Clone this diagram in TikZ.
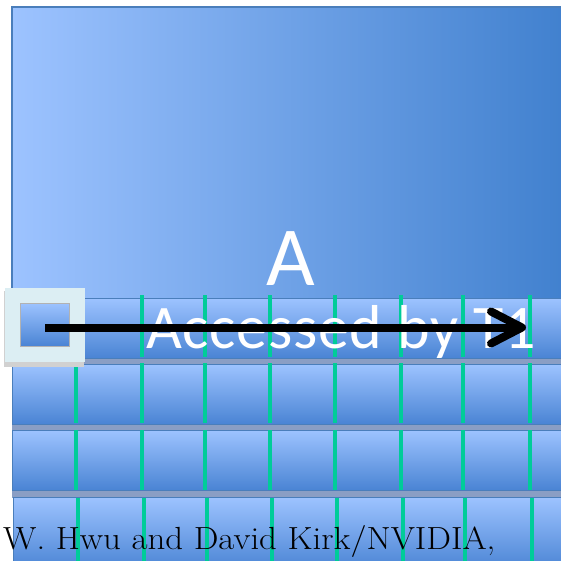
\documentclass[tikz,border=0pt]{standalone}
\usepackage{fontspec}
\newfontfamily\calib{Carlito}
\newfontfamily\credfont{Latin Modern Roman}[FakeStretch=1.09]
\usetikzlibrary{arrows.meta}
\definecolor{bluelite}{HTML}{9DC3FF}
\definecolor{bluedark}{HTML}{4080CE}
\definecolor{rowdark}{HTML}{4A84D4}
\definecolor{edgeblue}{HTML}{4A7EBB}
\definecolor{gridgreen}{HTML}{00CC99}
\definecolor{gapgrey}{HTML}{8A9EC4}
\definecolor{sqpale}{HTML}{DCEEF3}
\tikzset{
  bigbox/.style={draw=edgeblue, line width=1.6pt, left color=bluelite, right color=bluedark},
  rowbox/.style={draw=edgeblue, line width=1pt, top color=bluelite, bottom color=rowdark},
  gridline/.style={draw=gridgreen, line width=4pt},
  whitetext/.style={text=white, inner sep=0pt, anchor=base},
}
\begin{document}
\begin{tikzpicture}[x=1pt,y=-1pt]
\useasboundingbox (0,0) rectangle (561,561);
\clip (0,0) rectangle (561,561);
\fill[white] (0,0) rectangle (561,561);
% big matrix A
\path[bigbox] (12,7) rectangle (570,300);
% gaps between rows
\fill[gapgrey] (12,356) rectangle (570,366);
\fill[gapgrey] (12,422) rectangle (570,432);
\fill[gapgrey] (12,488) rectangle (570,498);
% rows
\path[rowbox] (12,298) rectangle (570,358) coordinate (r1);
\path[rowbox] (12,364) rectangle (570,424) coordinate (r2);
\path[rowbox] (12,430) rectangle (570,490) coordinate (r3);
\path[rowbox] (13,497) rectangle (570,570) coordinate (r4);
% green grid lines
\foreach \x in {76,142,205,270,335,401,463,530}{
  \draw[gridline] (\x,295) -- (\x,357);
  \draw[gridline] (\x,363) -- (\x,423);
  \draw[gridline] (\x,430) -- (\x,490);
  \draw[gridline] (\x+1.5,498) -- (\x+1.5,561);
}
% selected element square
\fill[black!18] (4,291) rectangle (84,367);
\fill[sqpale] (5,288) rectangle (85,362);
\path[top color=bluelite, bottom color=rowdark, draw=black!30, line width=0.6pt] (20,303) rectangle (69,346);
% labels
\node[whitetext, font=\calib\fontsize{84}{84}\selectfont] (lblA) at (291,285) {A};
\node[whitetext, font=\calib\fontsize{62}{62}\selectfont\addfontfeature{LetterSpace=1.2}, anchor=base west] (lblacc) at (146,348) {Accessed by T1};
% arrow
\coordinate (astart) at (45,327.5);
\coordinate (aend) at (526,327.5);
\draw[line width=8pt, -{Straight Barb[length=31pt,width=32pt,line cap=round,line join=round]}] (astart) -- (aend);
% credit line
\node[anchor=base west, inner sep=0pt, font=\credfont\fontsize{32}{32}\selectfont] (credit) at (3,549) {W. Hwu and David Kirk/NVIDIA,};
\end{tikzpicture}
\end{document}
